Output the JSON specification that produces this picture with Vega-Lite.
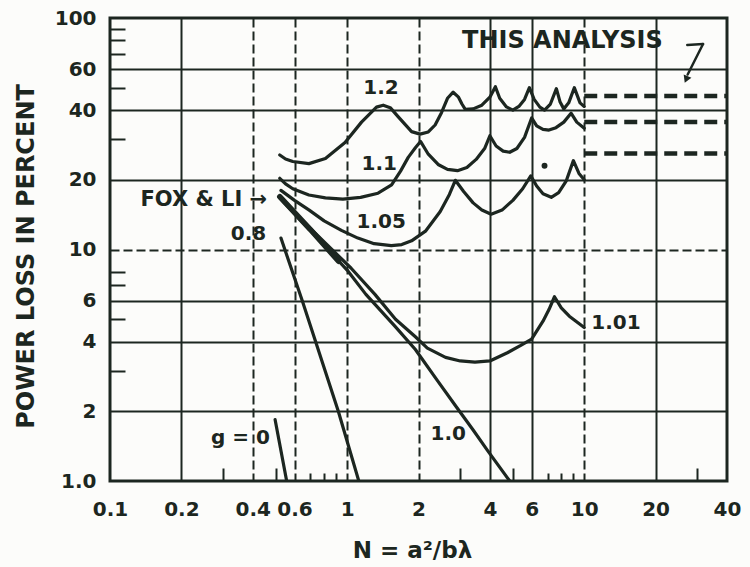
{
  "$schema": "https://vega.github.io/schema/vega-lite/v6.json",
  "width": 617,
  "height": 463,
  "autosize": "none",
  "padding": {"left": 110, "top": 18, "right": 23, "bottom": 86},
  "background": "#fcfcfa",
  "config": {
    "font": "DejaVu Sans",
    "view": {"stroke": "#1c2620", "strokeWidth": 3}
  },
  "datasets": {
    "curves": [
      {"c": "1.2", "n": 0.52, "p": 25.6}, {"c": "1.2", "n": 0.55, "p": 24.6}, {"c": "1.2", "n": 0.59, "p": 24.0},
      {"c": "1.2", "n": 0.69, "p": 23.5}, {"c": "1.2", "n": 0.81, "p": 24.7}, {"c": "1.2", "n": 0.98, "p": 29.0},
      {"c": "1.2", "n": 1.15, "p": 35.5}, {"c": "1.2", "n": 1.33, "p": 41.2}, {"c": "1.2", "n": 1.42, "p": 42.0},
      {"c": "1.2", "n": 1.52, "p": 41.0}, {"c": "1.2", "n": 1.64, "p": 37.5}, {"c": "1.2", "n": 1.87, "p": 32.3},
      {"c": "1.2", "n": 2.03, "p": 31.5}, {"c": "1.2", "n": 2.2, "p": 32.2}, {"c": "1.2", "n": 2.35, "p": 34.5},
      {"c": "1.2", "n": 2.5, "p": 39.0}, {"c": "1.2", "n": 2.65, "p": 45.0}, {"c": "1.2", "n": 2.8, "p": 47.8},
      {"c": "1.2", "n": 2.95, "p": 45.5}, {"c": "1.2", "n": 3.05, "p": 42.5}, {"c": "1.2", "n": 3.15, "p": 40.3},
      {"c": "1.2", "n": 3.4, "p": 40.5}, {"c": "1.2", "n": 3.7, "p": 42.0}, {"c": "1.2", "n": 4.0, "p": 45.5},
      {"c": "1.2", "n": 4.22, "p": 50.5}, {"c": "1.2", "n": 4.4, "p": 45.0}, {"c": "1.2", "n": 4.7, "p": 41.3},
      {"c": "1.2", "n": 5.0, "p": 40.0}, {"c": "1.2", "n": 5.3, "p": 41.5}, {"c": "1.2", "n": 5.6, "p": 44.5},
      {"c": "1.2", "n": 5.87, "p": 50.0}, {"c": "1.2", "n": 6.15, "p": 44.5}, {"c": "1.2", "n": 6.5, "p": 41.2},
      {"c": "1.2", "n": 6.8, "p": 40.0}, {"c": "1.2", "n": 7.2, "p": 42.5}, {"c": "1.2", "n": 7.63, "p": 49.5},
      {"c": "1.2", "n": 7.9, "p": 43.5}, {"c": "1.2", "n": 8.2, "p": 40.5}, {"c": "1.2", "n": 8.6, "p": 43.0},
      {"c": "1.2", "n": 9.08, "p": 50.0}, {"c": "1.2", "n": 9.6, "p": 43.0}, {"c": "1.2", "n": 10.0, "p": 41.5},

      {"c": "1.1", "n": 0.52, "p": 20.3}, {"c": "1.1", "n": 0.55, "p": 19.2}, {"c": "1.1", "n": 0.59, "p": 18.3},
      {"c": "1.1", "n": 0.69, "p": 17.2}, {"c": "1.1", "n": 0.81, "p": 16.7}, {"c": "1.1", "n": 0.96, "p": 16.5},
      {"c": "1.1", "n": 1.14, "p": 16.8}, {"c": "1.1", "n": 1.35, "p": 17.5}, {"c": "1.1", "n": 1.54, "p": 19.0},
      {"c": "1.1", "n": 1.68, "p": 21.8}, {"c": "1.1", "n": 1.81, "p": 25.0}, {"c": "1.1", "n": 1.94, "p": 27.5},
      {"c": "1.1", "n": 2.04, "p": 29.3}, {"c": "1.1", "n": 2.2, "p": 25.8}, {"c": "1.1", "n": 2.42, "p": 23.3},
      {"c": "1.1", "n": 2.65, "p": 22.2}, {"c": "1.1", "n": 2.92, "p": 21.9}, {"c": "1.1", "n": 3.2, "p": 22.6},
      {"c": "1.1", "n": 3.5, "p": 24.5}, {"c": "1.1", "n": 3.8, "p": 27.3}, {"c": "1.1", "n": 4.0, "p": 31.0},
      {"c": "1.1", "n": 4.25, "p": 28.0}, {"c": "1.1", "n": 4.55, "p": 26.6}, {"c": "1.1", "n": 4.85, "p": 26.3},
      {"c": "1.1", "n": 5.2, "p": 27.3}, {"c": "1.1", "n": 5.6, "p": 30.5}, {"c": "1.1", "n": 6.0, "p": 37.0},
      {"c": "1.1", "n": 6.3, "p": 34.2}, {"c": "1.1", "n": 6.7, "p": 33.0}, {"c": "1.1", "n": 7.1, "p": 32.8},
      {"c": "1.1", "n": 7.6, "p": 33.6}, {"c": "1.1", "n": 8.2, "p": 35.5}, {"c": "1.1", "n": 8.8, "p": 38.8},
      {"c": "1.1", "n": 9.3, "p": 35.5}, {"c": "1.1", "n": 10.0, "p": 33.4},

      {"c": "1.05", "n": 0.526, "p": 18.0}, {"c": "1.05", "n": 0.6, "p": 16.3}, {"c": "1.05", "n": 0.692, "p": 14.8},
      {"c": "1.05", "n": 0.8, "p": 13.3}, {"c": "1.05", "n": 0.946, "p": 12.1}, {"c": "1.05", "n": 1.11, "p": 11.2},
      {"c": "1.05", "n": 1.3, "p": 10.6}, {"c": "1.05", "n": 1.536, "p": 10.4}, {"c": "1.05", "n": 1.7, "p": 10.5},
      {"c": "1.05", "n": 1.87, "p": 10.9}, {"c": "1.05", "n": 2.14, "p": 12.0}, {"c": "1.05", "n": 2.47, "p": 14.6},
      {"c": "1.05", "n": 2.7, "p": 17.3}, {"c": "1.05", "n": 2.86, "p": 19.9}, {"c": "1.05", "n": 3.1, "p": 17.8},
      {"c": "1.05", "n": 3.4, "p": 15.9}, {"c": "1.05", "n": 3.7, "p": 14.8}, {"c": "1.05", "n": 4.05, "p": 14.2},
      {"c": "1.05", "n": 4.5, "p": 14.8}, {"c": "1.05", "n": 5.0, "p": 16.3}, {"c": "1.05", "n": 5.5, "p": 18.3},
      {"c": "1.05", "n": 5.95, "p": 20.8}, {"c": "1.05", "n": 6.3, "p": 18.8}, {"c": "1.05", "n": 6.7, "p": 17.4},
      {"c": "1.05", "n": 7.26, "p": 16.8}, {"c": "1.05", "n": 7.8, "p": 17.6}, {"c": "1.05", "n": 8.4, "p": 19.8},
      {"c": "1.05", "n": 9.0, "p": 24.2}, {"c": "1.05", "n": 9.5, "p": 21.3}, {"c": "1.05", "n": 10.0, "p": 20.0},

      {"c": "1.01", "n": 0.52, "p": 16.7}, {"c": "1.01", "n": 0.75, "p": 11.5}, {"c": "1.01", "n": 1.04, "p": 8.3},
      {"c": "1.01", "n": 1.31, "p": 6.4}, {"c": "1.01", "n": 1.6, "p": 5.0}, {"c": "1.01", "n": 1.94, "p": 4.2},
      {"c": "1.01", "n": 2.18, "p": 3.75}, {"c": "1.01", "n": 2.6, "p": 3.42}, {"c": "1.01", "n": 3.0, "p": 3.3},
      {"c": "1.01", "n": 3.46, "p": 3.26}, {"c": "1.01", "n": 4.0, "p": 3.3}, {"c": "1.01", "n": 4.74, "p": 3.58},
      {"c": "1.01", "n": 5.4, "p": 3.85}, {"c": "1.01", "n": 6.0, "p": 4.1}, {"c": "1.01", "n": 6.7, "p": 4.9},
      {"c": "1.01", "n": 7.1, "p": 5.5}, {"c": "1.01", "n": 7.49, "p": 6.25}, {"c": "1.01", "n": 8.0, "p": 5.6},
      {"c": "1.01", "n": 8.65, "p": 5.15}, {"c": "1.01", "n": 10.0, "p": 4.6},

      {"c": "1.0", "n": 0.52, "p": 16.7}, {"c": "1.0", "n": 0.75, "p": 11.2}, {"c": "1.0", "n": 1.0, "p": 8.15},
      {"c": "1.0", "n": 1.2, "p": 6.4}, {"c": "1.0", "n": 1.6, "p": 4.63}, {"c": "1.0", "n": 1.94, "p": 3.7},
      {"c": "1.0", "n": 2.4, "p": 2.72}, {"c": "1.0", "n": 2.86, "p": 2.12}, {"c": "1.0", "n": 3.4, "p": 1.66},
      {"c": "1.0", "n": 3.92, "p": 1.35}, {"c": "1.0", "n": 4.85, "p": 1.0},

      {"c": "0.8", "n": 0.526, "p": 11.2}, {"c": "0.8", "n": 0.647, "p": 6.0}, {"c": "0.8", "n": 0.918, "p": 2.0},
      {"c": "0.8", "n": 1.12, "p": 1.0},

      {"c": "0", "n": 0.497, "p": 1.84}, {"c": "0", "n": 0.556, "p": 1.0}
    ],
    "foxli": [
      {"n": 0.52, "p": 16.9}, {"n": 0.7, "p": 12.2}, {"n": 0.92, "p": 8.9}
    ],
    "analysis": [
      {"c": "upper", "n": 10, "p": 46}, {"c": "upper", "n": 40, "p": 46},
      {"c": "middle", "n": 10, "p": 35.5}, {"c": "middle", "n": 40, "p": 35.5},
      {"c": "lower", "n": 10, "p": 26}, {"c": "lower", "n": 40, "p": 26}
    ],
    "pointer": [
      {"n": 27.2, "p": 76.5, "n2": 31.7, "p2": 77.2},
      {"n": 31.7, "p": 77.2, "n2": 27.3, "p2": 57.0}
    ],
    "pointerHead": [{"n": 26.9, "p": 54.3}],
    "dot": [{"n": 6.8, "p": 23.0}],
    "curveLabels": [
      {"t": "1.2", "n": 1.39, "p": 49.7},
      {"t": "1.1", "n": 1.366, "p": 23.3},
      {"t": "1.05", "n": 1.393, "p": 13.1},
      {"t": "1.01", "n": 13.6, "p": 4.83},
      {"t": "1.0", "n": 2.67, "p": 1.59},
      {"t": "0.8", "n": 0.384, "p": 11.7},
      {"t": "g = 0", "n": 0.355, "p": 1.54}
    ],
    "foxNote": [{"t": "FOX & LI →", "n": 0.46, "p": 16.3}],
    "analysisNote": [{"t": "THIS ANALYSIS", "n": 8.09, "p": 79.6}]
  },
  "encoding": {
    "x": {
      "field": "n",
      "type": "quantitative",
      "scale": {"type": "log", "domain": [0.1, 40], "nice": false},
      "axis": {
        "values": [0.1, 0.2, 0.3, 0.4, 0.5, 0.6, 0.7, 0.8, 0.9, 1, 2, 3, 4, 5, 6, 7, 8, 9, 10, 20, 30, 40],
        "labelExpr": "indexof([0.3, 0.5, 0.7, 0.8, 0.9, 3, 5, 7, 8, 9, 30], datum.value) >= 0 ? '' : '' + datum.value",
        "domain": false,
        "ticks": true,
        "tickColor": "#1c2620",
        "tickWidth": 2,
        "tickSize": {
          "condition": [
            {"test": "indexof([0.3, 0.5, 3, 5, 30], datum.value) >= 0", "value": -13},
            {"test": "indexof([0.7, 0.8, 0.9, 7, 8, 9], datum.value) >= 0", "value": -8}
          ],
          "value": 0
        },
        "grid": true,
        "gridColor": "#1c2620",
        "gridWidth": 2,
        "gridOpacity": {
          "condition": {"test": "indexof([0.2, 0.4, 0.6, 1, 2, 4, 6, 10, 20], datum.value) >= 0", "value": 1},
          "value": 0
        },
        "gridDash": {
          "condition": {"test": "indexof([0.4, 0.6, 1, 2, 10], datum.value) >= 0", "value": [9, 4]},
          "value": []
        },
        "labelFlush": false,
        "labelFont": "DejaVu Sans",
        "labelFontSize": 20,
        "labelFontWeight": "bold",
        "labelColor": "#1c2620",
        "labelPadding": 18,
        "title": "N = a²/bλ",
        "titleFont": "DejaVu Sans",
        "titleFontSize": 23,
        "titleFontWeight": "bold",
        "titleColor": "#1c2620",
        "titleX": 302,
        "titleY": 69,
        "titleBaseline": "middle"
      }
    },
    "y": {
      "field": "p",
      "type": "quantitative",
      "scale": {"type": "log", "domain": [1, 100], "nice": false},
      "axis": {
        "values": [1, 2, 3, 4, 5, 6, 7, 8, 10, 20, 30, 40, 50, 60, 70, 80, 90, 100],
        "labelExpr": "datum.value == 1 ? '1.0' : (indexof([3, 5, 7, 8, 30, 50, 70, 80, 90], datum.value) >= 0 ? '' : '' + datum.value)",
        "domain": false,
        "ticks": true,
        "tickColor": "#1c2620",
        "tickWidth": 2,
        "tickSize": {
          "condition": {"test": "indexof([3, 5, 7, 8, 30, 50, 70, 80, 90], datum.value) >= 0", "value": -15},
          "value": 0
        },
        "grid": true,
        "gridColor": "#1c2620",
        "gridWidth": 2,
        "gridOpacity": {
          "condition": {"test": "indexof([2, 4, 6, 10, 20, 40, 60], datum.value) >= 0", "value": 1},
          "value": 0
        },
        "gridDash": {
          "condition": {"test": "datum.value == 10", "value": [9, 4]},
          "value": []
        },
        "labelFlush": false,
        "labelFont": "DejaVu Sans",
        "labelFontSize": 20,
        "labelFontWeight": "bold",
        "labelColor": "#1c2620",
        "labelPadding": 14,
        "title": "POWER LOSS IN PERCENT",
        "titleFont": "DejaVu Sans",
        "titleFontSize": 24,
        "titleFontWeight": "bold",
        "titleColor": "#1c2620",
        "titleAngle": -90,
        "titleX": -84,
        "titleY": 238,
        "titleAlign": "center",
        "titleBaseline": "middle"
      }
    }
  },
  "layer": [
    {
      "data": {"name": "curves"},
      "mark": {"type": "line", "color": "#1c2620", "strokeWidth": 3.2, "strokeJoin": "round", "strokeCap": "round", "clip": true},
      "encoding": {"detail": {"field": "c"}}
    },
    {
      "data": {"name": "foxli"},
      "mark": {"type": "line", "color": "#1c2620", "strokeWidth": 5.5, "strokeCap": "round", "clip": true},
      "encoding": {}
    },
    {
      "data": {"name": "analysis"},
      "mark": {"type": "line", "color": "#1c2620", "strokeWidth": 4.5, "strokeDash": [13, 7], "clip": true},
      "encoding": {"detail": {"field": "c"}}
    },
    {
      "data": {"name": "pointer"},
      "mark": {"type": "rule", "color": "#1c2620", "strokeWidth": 2.5, "strokeCap": "round"},
      "encoding": {"x2": {"field": "n2"}, "y2": {"field": "p2"}}
    },
    {
      "data": {"name": "pointerHead"},
      "mark": {"type": "point", "shape": "triangle-down", "filled": true, "color": "#1c2620", "opacity": 1, "size": 70, "angle": 23},
      "encoding": {}
    },
    {
      "data": {"name": "dot"},
      "mark": {"type": "point", "shape": "circle", "filled": true, "color": "#1c2620", "opacity": 1, "size": 35},
      "encoding": {}
    },
    {
      "data": {"name": "curveLabels"},
      "mark": {"type": "text", "font": "DejaVu Sans", "fontSize": 20, "fontWeight": "bold", "color": "#1c2620", "align": "center", "baseline": "middle"},
      "encoding": {"text": {"field": "t"}}
    },
    {
      "data": {"name": "foxNote"},
      "mark": {"type": "text", "font": "DejaVu Sans", "fontSize": 21, "fontWeight": "bold", "color": "#1c2620", "align": "right", "baseline": "middle"},
      "encoding": {"text": {"field": "t"}}
    },
    {
      "data": {"name": "analysisNote"},
      "mark": {"type": "text", "font": "DejaVu Sans", "fontSize": 24, "fontWeight": "bold", "color": "#1c2620", "align": "center", "baseline": "middle"},
      "encoding": {"text": {"field": "t"}}
    }
  ]
}
